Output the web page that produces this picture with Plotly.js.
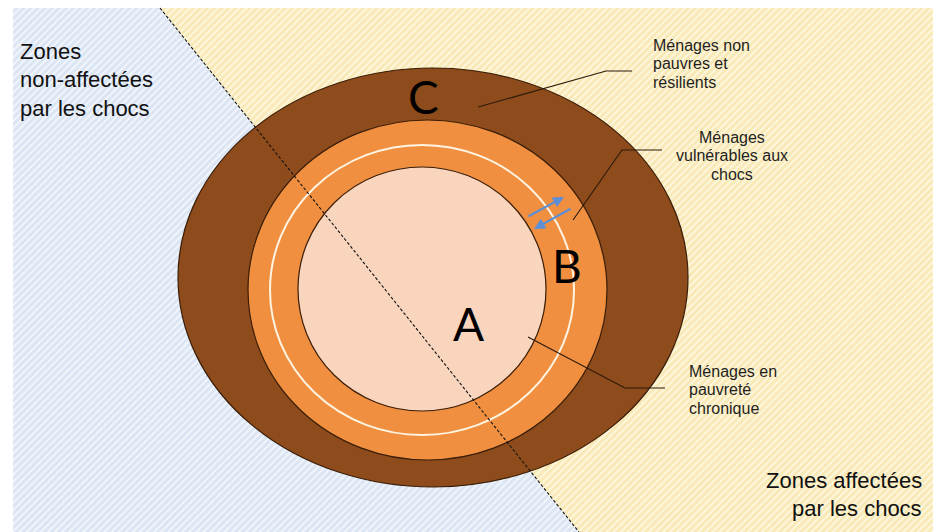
<!DOCTYPE html>
<html>
<head>
<meta charset="utf-8">
<script src="https://cdn.plot.ly/plotly-3.0.1.min.js"></script>
<style>html,body{margin:0;padding:0;background:#fff;}#chart{width:940px;height:532px;}</style>
</head>
<body>
<div id="chart"></div>
<script>
// ---- content (text) ----
const ringLetters = ["A", "B", "C"];
const ringNames = [
  ["Ménages en", "pauvreté", "chronique"],
  ["Ménages", "vulnérables aux", "chocs"],
  ["Ménages non", "pauvres et", "résilients"]
];
const zoneUnaffected = ["Zones", "non-affectées", "par les chocs"];
const zoneAffected = ["Zones affectées", "par les chocs"];

// ---- geometry (pixel-like data coordinates) ----
const W = 940, H = 532;
const frame = {x0: 13, x1: 933, y0: 8, y1: 532};
const divide = {xTop: 160, xBot: 579};   // dashed boundary between zones (at frame top / bottom)

const ellipses = [ // outer -> inner
  {x0: 178, x1: 688, y0: 68,  y1: 487, fill: "#8E4B1B"},
  {x0: 248, x1: 607, y0: 120, y1: 460, fill: "#F08F3F"},
  {x0: 298, x1: 546, y0: 167, y1: 411, fill: "#F9D5BE"}
];
const whiteRing = {x0: 270, x1: 574, y0: 145, y1: 435};

const traces = [
  { // non-affected zone
    x: [frame.x0, divide.xTop, divide.xBot, frame.x0],
    y: [frame.y0, frame.y0, frame.y1, frame.y1],
    mode: "none", fill: "toself", hoverinfo: "skip", showlegend: false,
    fillpattern: {shape: "/", bgcolor: "#DCE5F3", fgcolor: "#F3F7FD", size: 5, solidity: 0.35}
  },
  { // affected zone
    x: [divide.xTop, frame.x1, frame.x1, divide.xBot],
    y: [frame.y0, frame.y0, frame.y1, frame.y1],
    mode: "none", fill: "toself", hoverinfo: "skip", showlegend: false,
    fillpattern: {shape: "/", bgcolor: "#F8E9B6", fgcolor: "#FFF8E2", size: 5, solidity: 0.35}
  }
];

const shapes = [];
ellipses.forEach(e => shapes.push({
  type: "circle", xref: "x", yref: "y", x0: e.x0, x1: e.x1, y0: e.y0, y1: e.y1,
  fillcolor: e.fill, line: {color: "#3A1E08", width: 1.2}
}));
shapes.splice(2, 0, {
  type: "circle", xref: "x", yref: "y",
  x0: whiteRing.x0, x1: whiteRing.x1, y0: whiteRing.y0, y1: whiteRing.y1,
  fillcolor: "rgba(0,0,0,0)", line: {color: "#FFF4E2", width: 2}
});
// dashed zone boundary
shapes.push({type: "line", xref: "x", yref: "y", x0: divide.xTop, y0: frame.y0, x1: divide.xBot, y1: frame.y1,
  line: {color: "#111111", width: 1.1, dash: "3px,2px"}});
// leader lines
const leaders = [
  "M528,337 L625,388 L665,388",
  "M573,220 L622,150 L662,150",
  "M478,107 L606,71 L632,71"
];
leaders.forEach(p => shapes.push({type: "path", xref: "x", yref: "y", path: p,
  line: {color: "#2a1a0c", width: 1.1}}));

const annotations = [];
const letterPos = [[468, 323], [567, 265], [423, 96]];
ringLetters.forEach((t, i) => annotations.push({
  x: letterPos[i][0], y: letterPos[i][1], xref: "x", yref: "y", text: t, showarrow: false,
  font: {family: "Lato, 'Open Sans', sans-serif", size: 46, color: "#000"}
}));

const smallFont = {family: "'Liberation Sans', Arial, sans-serif", size: 16, color: "#1f1f1f"};
const nameAnchors = [
  {x: 687, y: 371, align: "left"},
  {x: 732, y: 137, align: "center"},
  {x: 651, y: 45, align: "left"}
];
ringNames.forEach((lines, i) => {
  const a = nameAnchors[i];
  lines.forEach((ln, j) => annotations.push({
    x: a.x, y: a.y + j * 18.5, xref: "x", yref: "y", text: ln, showarrow: false,
    xanchor: a.align, yanchor: "middle", font: smallFont
  }));
});

const bigFont = {family: "'Liberation Sans', Arial, sans-serif", size: 22, color: "#111"};
zoneUnaffected.forEach((ln, j) => annotations.push({
  x: 18, y: 51 + j * 28.5, xref: "x", yref: "y", text: ln, showarrow: false,
  xanchor: "left", yanchor: "middle", font: bigFont
}));
zoneAffected.forEach((ln, j) => annotations.push({
  x: 924, y: 480 + j * 28, xref: "x", yref: "y", text: ln, showarrow: false,
  xanchor: "right", yanchor: "middle", font: bigFont
}));

// two-way movement arrows between A and B
const arrows = [
  {from: [527, 217], to: [564, 197]},
  {from: [572, 208], to: [534, 229]}
];
arrows.forEach(a => annotations.push({
  x: a.to[0], y: a.to[1], ax: a.from[0], ay: a.from[1],
  xref: "x", yref: "y", axref: "x", ayref: "y", text: "", showarrow: true,
  arrowhead: 2, arrowsize: 1, arrowwidth: 2.2, arrowcolor: "#5B8FD8"
}));

const layout = {
  width: W, height: H,
  margin: {l: 0, r: 0, t: 0, b: 0, pad: 0},
  paper_bgcolor: "#ffffff", plot_bgcolor: "#ffffff",
  xaxis: {range: [0, W], visible: false, fixedrange: true},
  yaxis: {range: [H, 0], visible: false, fixedrange: true},
  showlegend: false, shapes: shapes, annotations: annotations
};
Plotly.newPlot("chart", traces, layout, {displayModeBar: false, staticPlot: true});
</script>
</body>
</html>
